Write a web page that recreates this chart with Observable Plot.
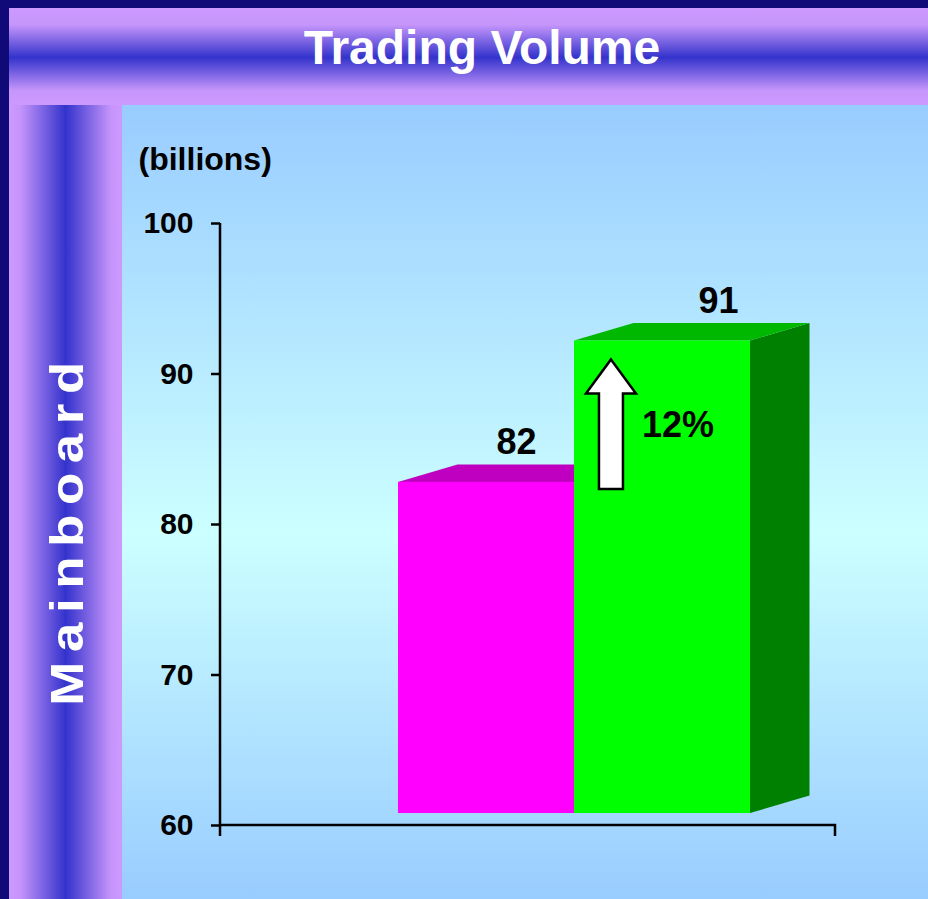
<!DOCTYPE html>
<html>
<head>
<meta charset="utf-8">
<script src="https://cdn.jsdelivr.net/npm/d3@7"></script>
<script src="https://cdn.jsdelivr.net/npm/@observablehq/plot@0.6"></script>
<style>
  html, body { margin: 0; padding: 0; background: #100a78; }
  #wrap { position: relative; width: 928px; height: 899px; overflow: hidden; background: #100a78;
          font-family: "Liberation Sans", Arial, sans-serif; }
  .abs { position: absolute; }
  #titleBand { left: 9px; top: 8px; width: 919px; height: 97px;
    background: linear-gradient(to bottom, #cc99ff 0%, #c696fb 17%, #3333cc 51%, #c696fb 85%, #cc99ff 100%); }
  #title { left: 0; top: 24px; width: 964px; text-align: center; color: #fff; font-weight: bold;
    font-size: 48px; line-height: 48px; white-space: nowrap; }
  #sideBand { left: 9px; top: 105px; width: 113px; height: 794px;
    background: linear-gradient(to right, #cc99ff 0%, #c594fa 10%, #3333cc 50%, #c594fa 90%, #cc99ff 100%); }
  #plotBg { left: 122px; top: 105px; width: 806px; height: 794px;
    background: linear-gradient(to bottom, #99ccff 0%, #ccffff 54%, #99ccff 100%); }
  #side { left: 9px; top: 105px; }
  #chart { left: 0; top: 0; }
</style>
</head>
<body>
<div id="wrap">
  <div id="titleBand" class="abs"></div>
  <div id="sideBand" class="abs"></div>
  <div id="plotBg" class="abs"></div>
  <div id="title" class="abs"></div>
  <svg id="side" class="abs" width="113" height="794"></svg>
  <div id="chart" class="abs"></div>
</div>
<script>
// ---- data ----
const titleText = "Trading Volume";
const sideText = "Mainboard";
const unitLabel = "(billions)";
const categories = ["Previous period", "Current period"];
const volumes = [82.0, 91.4];
const valueLabels = ["82", "91"];
const changeLabel = "12%";
const yTicks = [60, 70, 80, 90, 100];

// ---- styles ----
const frontColors = ["#ff00ff", "#00ff00"];
const topColors = ["#c000c0", "#00b800"];
const sideColors = ["#a000a0", "#008000"];
const labelShift = [30, 56];
const depth = {dx: 59.5, dy: -17.5};
const lift = -12;

document.getElementById("title").textContent = titleText;

// side label
d3.select("#side").append("text")
  .attr("transform", "translate(74.3,600.7) rotate(-90) scale(1.15,1)")
  .attr("textLength", 344 / 1.15)
  .attr("lengthAdjust", "spacing")
  .attr("fill", "#fff")
  .attr("font-family", "'Liberation Sans', Arial, sans-serif")
  .attr("font-weight", "bold")
  .attr("font-size", 46)
  .text(sideText);

const data = categories.map((c, i) => ({category: c, volume: volumes[i], label: valueLabels[i]}));
const baseValue = yTicks[0];

function bw(x) {
  return x.bandwidth ? x.bandwidth() : (x(categories[1]) - x(categories[0]));
}

function axesMark(index, scales, values, dims) {
  const {x, y} = scales;
  const x0 = dims.marginLeft, x1 = dims.width - dims.marginRight;
  const yTop = y(yTicks[yTicks.length - 1]), yBase = y(yTicks[0]);
  const g = d3.create("svg:g").attr("stroke", "black").attr("stroke-width", 2.5).attr("fill", "none");
  g.append("path").attr("d", `M${x0},${yTop}V${yBase}H${x1}V${yBase + 11}M${x0},${yBase}V${yBase + 11}`);
  return g.node();
}

function depthFaces(index, scales) {
  const {x, y} = scales;
  const w = bw(x);
  const g = d3.create("svg:g");
  data.forEach((d, i) => {
    const xl = x(d.category), xr = xl + w;
    const yt = y(d.volume) + lift, yb = y(baseValue) + lift;
    g.append("path").attr("fill", sideColors[i])
      .attr("d", `M${xr},${yt}L${xr + depth.dx},${yt + depth.dy}L${xr + depth.dx},${yb + depth.dy}L${xr},${yb}Z`);
    g.append("path").attr("fill", topColors[i])
      .attr("d", `M${xl},${yt}L${xl + depth.dx},${yt + depth.dy}L${xr + depth.dx},${yt + depth.dy}L${xr},${yt}Z`);
  });
  return g.node();
}

function arrowMark(index, scales) {
  const {x, y} = scales;
  const w = bw(x);
  const cx = x(categories[1]) + w * 0.21;
  const yTip = y(volumes[1]) + 7, yTail = y(volumes[0]) - 5;
  const headH = 34, headW = 25, shaftW = 12;
  const g = d3.create("svg:g");
  g.append("path")
    .attr("fill", "white").attr("stroke", "black").attr("stroke-width", 2.5).attr("stroke-linejoin", "miter")
    .attr("d", `M${cx},${yTip}L${cx + headW},${yTip + headH}L${cx + shaftW},${yTip + headH}L${cx + shaftW},${yTail}` +
               `L${cx - shaftW},${yTail}L${cx - shaftW},${yTip + headH}L${cx - headW},${yTip + headH}Z`);
  return g.node();
}

const changeDatum = [{category: categories[1], mid: (volumes[0] + volumes[1]) / 2, text: changeLabel}];

const valueTextMarks = data.map((d, i) =>
  Plot.text([d], {x: "category", y: "volume", text: "label", dx: labelShift[i], dy: lift - 28,
                  lineAnchor: "bottom", fontSize: 36, fontWeight: "bold", fill: "black"}));

const chart = Plot.plot({
  width: 928,
  height: 899,
  marginLeft: 220,
  marginRight: 93,
  marginTop: 223,
  marginBottom: 74,
  style: {background: "transparent", fontFamily: "'Liberation Sans', Arial, sans-serif", overflow: "visible", color: "black"},
  x: {domain: categories, range: [398, 750], padding: 0, axis: null},
  y: {domain: [60, 100]},
  color: {domain: categories, range: frontColors},
  marks: [
    depthFaces,
    Plot.barY(data, {x: "category", y1: baseValue, y2: "volume", dy: lift, fill: "category"}),
    axesMark,
    Plot.axisY({ticks: yTicks, tickSize: 9, tickPadding: 18, fontSize: 30, fontWeight: "bold",
                strokeWidth: 2.5, label: null, tickFormat: d3.format("d")}),
    Plot.text([unitLabel], {frameAnchor: "top-left", text: d => d, dx: -82, dy: -54,
                textAnchor: "start", lineAnchor: "bottom", fontSize: 32, fontWeight: "bold", fill: "black"}),
    ...valueTextMarks,
    arrowMark,
    Plot.text(changeDatum, {x: "category", y: "mid", text: "text", dx: 15.5, dy: 2,
                lineAnchor: "middle", fontSize: 36, fontWeight: "bold", fill: "black"})
  ]
});
document.getElementById("chart").appendChild(chart);
</script>
</body>
</html>
